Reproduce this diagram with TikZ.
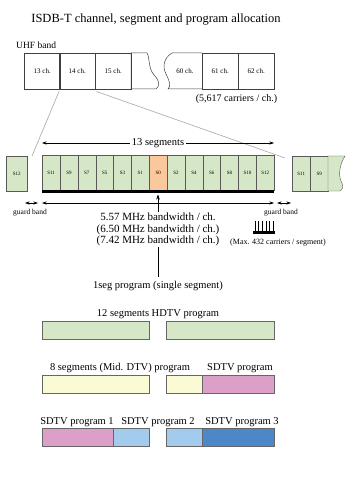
\documentclass[tikz,border=0pt]{standalone}
\usepackage{fontspec}
\setmainfont{Liberation Serif}
\usetikzlibrary{arrows.meta}
\definecolor{segg}{RGB}{213,231,199}
\definecolor{sego}{RGB}{251,199,156}
\definecolor{yel}{RGB}{250,250,212}
\definecolor{pnk}{RGB}{220,160,200}
\definecolor{lbl}{RGB}{163,203,238}
\definecolor{dbl}{RGB}{76,135,200}
\begin{document}
\begin{tikzpicture}[x=1pt,y=-1pt,
  txt/.style={inner sep=0pt, anchor=base, font=\fontsize{10.5}{12}\selectfont},
  small/.style={inner sep=0pt, anchor=base, font=\fontsize{7.5}{9}\selectfont},
  chbox/.style={draw=black!75, line width=0.5pt, minimum width=36pt, minimum height=36pt, inner sep=0pt, anchor=north west, font=\fontsize{7}{8}\selectfont},
  segbox/.style={draw=black!65, line width=0.4pt, minimum width=17.846pt, minimum height=35pt, inner sep=0pt, anchor=north west, font=\fontsize{5}{6}\selectfont},
  bar/.style={draw=black!60, line width=0.5pt, minimum height=17.5pt, inner sep=0pt, anchor=north west},
  dim/.style={{Stealth[length=4.5pt,width=3pt]}-{Stealth[length=4.5pt,width=3pt]}, line width=0.5pt},
  zoomline/.style={draw=black!35, line width=0.6pt}
]
\useasboundingbox (0,0) rectangle (350,478);

% title
\node[inner sep=0pt, anchor=base, font=\fontsize{12.5}{14}\selectfont] (title) at (156,23) {ISDB-T channel, segment and program allocation};

% UHF band
\node[inner sep=0pt, anchor=base west, font=\fontsize{9.5}{11}\selectfont] (uhf) at (16,49) {UHF band};
\node[chbox] (c13) at (24,53) {13 ch.};
\node[chbox] (c14) at (59,53) {14 ch.};
\node[chbox] (c15) at (95,53) {15 ch.};
\draw[draw=black!75, line width=0.5pt] (131,53) -- (147,53) .. controls (150,58) and (148,68) .. (154,75) .. controls (160,81) and (160,86) .. (156,89) -- (131,89) -- cycle;
\draw[draw=black!75, line width=0.5pt] (202,53) -- (172,53) .. controls (164,58) and (162,66) .. (166,74) .. controls (170,82) and (171,86) .. (168,89) -- (202,89);
\node[inner sep=0pt, font=\fontsize{7}{8}\selectfont] (c60) at (185,71) {60 ch.};
\node[chbox] (c61) at (202,53) {61 ch.};
\node[chbox] (c62) at (238,53) {62 ch.};
\node[inner sep=0pt, anchor=base, font=\fontsize{10}{12}\selectfont] (carr) at (236.5,102) {(5,617 carriers / ch.)};

% zoom lines
\coordinate (z1) at (32,156);
\coordinate (z2) at (285,158);
\draw[zoomline] ([yshift=-2pt]c14.south west) -- (z1);
\draw[zoomline] ([xshift=1pt,yshift=-2pt]c14.south east) -- (z2);

% 13 segments arrow
\coordinate (t1) at (42,143);
\coordinate (t2) at (274,143);
\draw[dim] (t1) -- (t2) node[midway, fill=white, inner xsep=2pt, inner ysep=1pt, font=\fontsize{10.5}{12}\selectfont] (tseg) {13 segments};

% segments
\foreach \l/\c [count=\i from 0] in {11/segg,9/segg,7/segg,5/segg,3/segg,1/segg,0/sego,2/segg,4/segg,6/segg,8/segg,10/segg,12/segg}
  \node[segbox, fill=\c] (s\l) at ({42+\i*17.846},155) {S\l};
\draw[line width=3pt] ([yshift=-1.5pt]s11.south west) -- ([yshift=-1.5pt]s12.south east);

% guard pieces
\node[segbox, minimum width=21pt, fill=segg] (g12) at (6,156) {S12};
\node[segbox, minimum width=18pt, fill=segg] (r11) at (292,156) {S11};
\node[segbox, minimum width=18pt, fill=segg] (r9) at (310,156) {S9};
\draw[draw=black!65, line width=0.4pt, fill=segg] (328,156) -- (345,156) .. controls (340,164) and (338,174) .. (341,181) .. controls (344,186) and (343,189) .. (340,191) -- (328,191) -- cycle;

% bandwidth arrows
\coordinate (l1) at (25,203);
\coordinate (l2) at (38,203);
\coordinate (b1) at (42,203);
\coordinate (b2) at (274,203);
\coordinate (r1) at (277,203);
\coordinate (r2) at (291,203);
\draw[dim] (l1) -- (l2);
\draw[dim] (b1) -- (b2);
\draw[dim] (r1) -- (r2);
\node[small] (gbl) at (30,214) {guard band};
\node[small] (gbr) at (281,214) {guard band};

% 1seg arrow
\node[txt] (one) at (158,288) {1seg program (single segment)};
\coordinate (tip) at (158,194.5);
\draw[-{Stealth[length=5pt,width=3.5pt]}, line width=0.5pt] ([yshift=4pt]one.north) -- (tip);
\node[align=center, fill=white, inner sep=1pt, font=\fontsize{11}{11.5}\selectfont] (bw) at (158,229.5) {5.57 MHz bandwidth / ch.\\(6.50 MHz bandwidth / ch.)\\(7.42 MHz bandwidth / ch.)};

% carriers comb
\foreach \k in {0,...,5}
  \draw[line width=0.6pt] ({255+\k*3.6},221) -- ({255+\k*3.6},232);
\draw[line width=2.2pt] (253,232.5) -- (275,232.5);
\node[inner sep=0pt, anchor=base, font=\fontsize{8}{9}\selectfont] (maxc) at (278,244) {(Max. 432 carriers / segment)};

% program rows
\node[txt] (p1) at (158,316.5) {12 segments HDTV program};
\node[bar, fill=segg, minimum width=107pt] (h1) at (42,321) {};
\node[bar, fill=segg, minimum width=108pt] (h2) at (166,321) {};

\node[txt] (p2a) at (120,370.5) {8 segments (Mid. DTV) program};
\node[txt] (p2b) at (240,370.5) {SDTV program};
\node[bar, fill=yel, minimum width=107pt] (m1) at (42,375) {};
\node[bar, fill=yel, minimum width=36pt] (m2) at (166,375) {};
\node[bar, fill=pnk, minimum width=72pt] (m3) at (202,375) {};

\node[txt] (p3a) at (77,424) {SDTV program 1};
\node[txt] (p3b) at (158,424) {SDTV program 2};
\node[txt] (p3c) at (242,424) {SDTV program 3};
\node[bar, fill=pnk, minimum width=71pt] (q1) at (42,428) {};
\node[bar, fill=lbl, minimum width=36pt] (q2) at (113,428) {};
\node[bar, fill=lbl, minimum width=36pt] (q3) at (166,428) {};
\node[bar, fill=dbl, minimum width=72pt] (q4) at (202,428) {};
\end{tikzpicture}
\end{document}
